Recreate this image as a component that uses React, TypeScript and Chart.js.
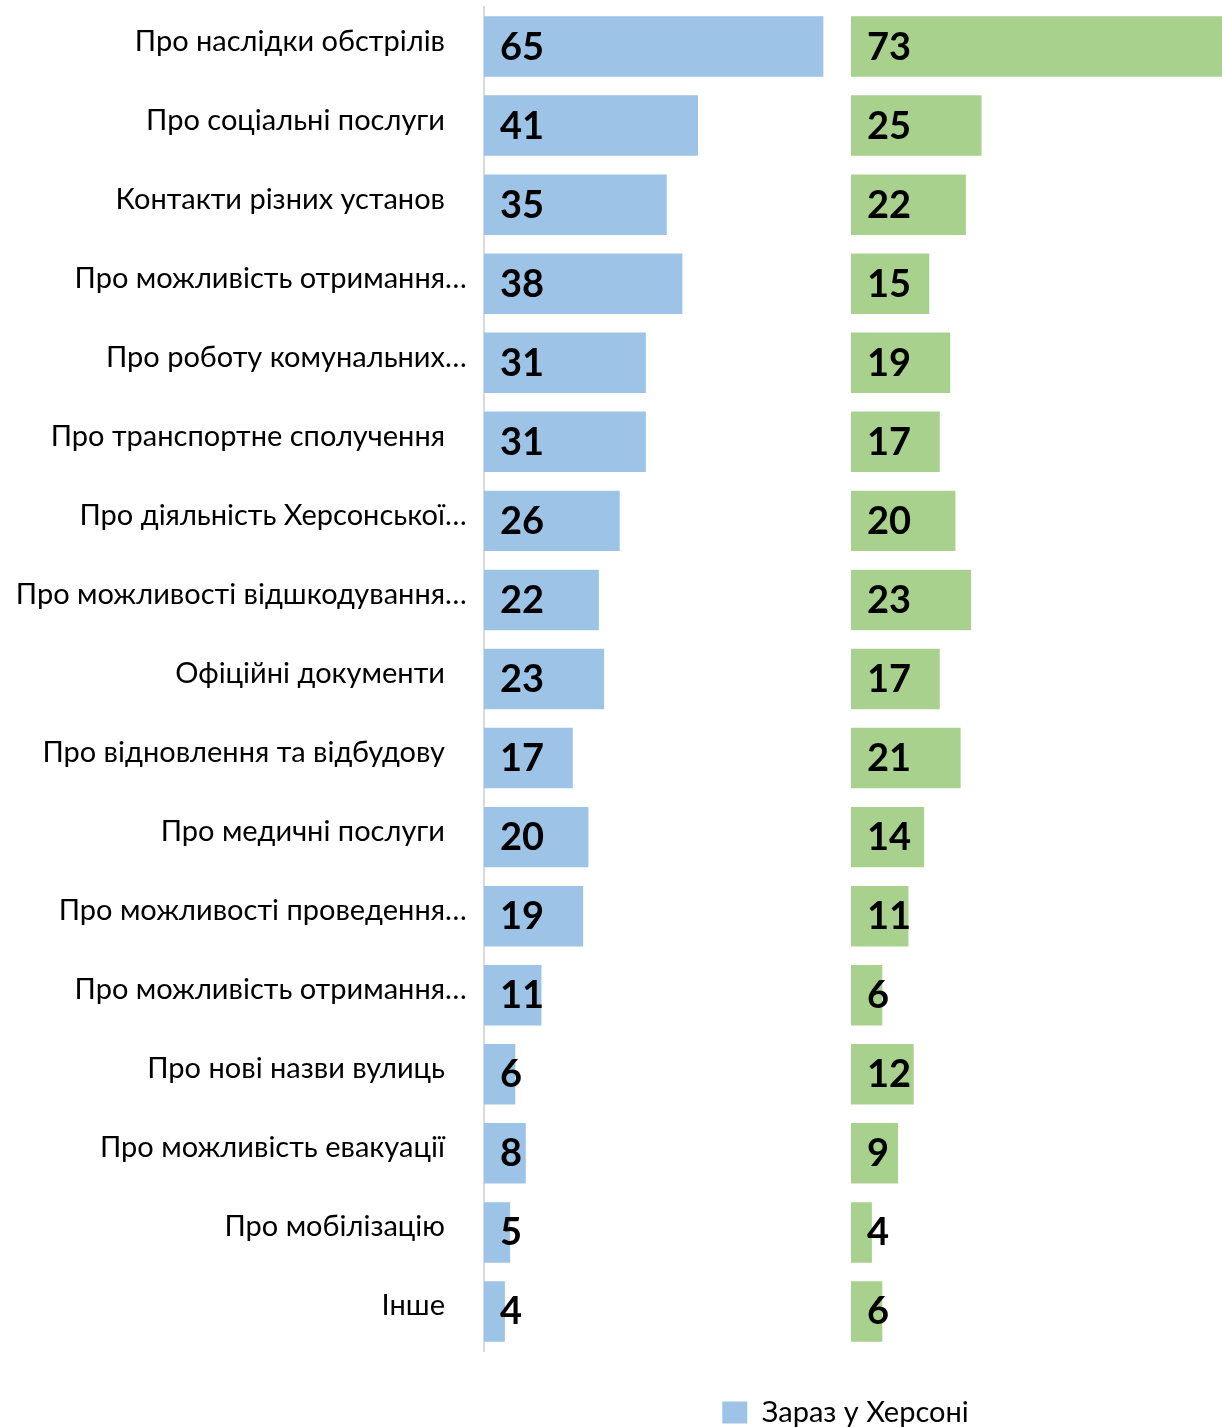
import { useEffect, useRef } from 'react';
import { Chart, registerables } from 'chart.js';

Chart.register(...registerables);

const categories = [
  'Про наслідки обстрілів',
  'Про соціальні послуги',
  'Контакти різних установ',
  'Про можливість отримання…',
  'Про роботу комунальних…',
  'Про транспортне сполучення',
  'Про діяльність Херсонської…',
  'Про можливості відшкодування…',
  'Офіційні документи',
  'Про відновлення та відбудову',
  'Про медичні послуги',
  'Про можливості проведення…',
  'Про можливість отримання…',
  'Про нові назви вулиць',
  'Про можливість евакуації',
  'Про мобілізацію',
  'Інше',
];

const nowValues = [65, 41, 35, 38, 31, 31, 26, 22, 23, 17, 20, 19, 11, 6, 8, 5, 4];
const secondValues = [73, 25, 22, 15, 19, 17, 20, 23, 17, 21, 14, 11, 6, 12, 9, 4, 6];

const seriesNames = ['Зараз у Херсоні', 'Серія 2'];

// layout constants
const CANVAS_W = 1691;
const CANVAS_H = 1437;
const AXIS_LEFT = 484;
const X_MAX = 231.2;
const SECOND_PANEL_OFFSET = 70.3;
const FONT = 'Lato';
const LABEL_SIZE = 29;
const LABEL_RIGHT = 445;
const VALUE_SIZE = 38;
const LEGEND_SIZE = 29;
const BLUE = '#9dc3e6';
const GREEN = '#a9d18e';

const categoryLabelPlugin = {
  id: 'categoryLabels',
  afterDraw(chart: any) {
    const ctx = chart.ctx;
    const yScale = chart.scales.y;
    ctx.save();
    ctx.font = `${LABEL_SIZE}px ${FONT}`;
    ctx.fillStyle = '#000000';
    ctx.textAlign = 'right';
    ctx.textBaseline = 'alphabetic';
    const ell = ctx.measureText('…').width;
    categories.forEach((c, i) => {
      const py = yScale.getPixelForValue(i);
      const x = c.endsWith('…') ? LABEL_RIGHT + ell : LABEL_RIGHT;
      ctx.fillText(c, x, py + 4);
    });
    ctx.restore();
  },
};

const valueLabelPlugin = {
  id: 'valueLabels',
  afterDatasetsDraw(chart: any) {
    const ctx = chart.ctx;
    ctx.save();
    ctx.font = `bold ${VALUE_SIZE}px ${FONT}`;
    ctx.fillStyle = '#000000';
    ctx.textAlign = 'left';
    ctx.textBaseline = 'alphabetic';
    chart.data.datasets.forEach((ds: any, di: number) => {
      const meta = chart.getDatasetMeta(di);
      const vals = di === 0 ? nowValues : secondValues;
      meta.data.forEach((el: any, i: number) => {
        const start = Math.min(el.base, el.x);
        ctx.fillText(String(vals[i]), start + 16, el.y + 13);
      });
    });
    ctx.restore();
  },
};

export default function App() {
  const ref = useRef<HTMLCanvasElement | null>(null);

  useEffect(() => {
    if (!ref.current) return;
    const chart = new Chart(ref.current, {
      type: 'bar',
      data: {
        labels: categories,
        datasets: [
          {
            label: seriesNames[0],
            data: nowValues,
            backgroundColor: BLUE,
            borderWidth: 0,
            grouped: false,
            barPercentage: 0.765,
            categoryPercentage: 1,
          } as any,
          {
            label: seriesNames[1],
            data: secondValues.map((v) => [SECOND_PANEL_OFFSET, SECOND_PANEL_OFFSET + v]),
            backgroundColor: GREEN,
            borderWidth: 0,
            grouped: false,
            barPercentage: 0.765,
            categoryPercentage: 1,
          } as any,
        ],
      },
      options: {
        indexAxis: 'y',
        responsive: false,
        animation: false,
        devicePixelRatio: 1,
        layout: { padding: { top: 7, left: 0, right: 0, bottom: 0 } },
        scales: {
          x: {
            min: 0,
            max: X_MAX,
            display: true,
            grid: { display: false },
            border: { display: false },
            ticks: { display: false },
            afterFit: (s: any) => {
              s.height = 37;
            },
          },
          y: {
            display: true,
            grid: { display: false, drawTicks: false },
            border: { display: true, color: '#d9d9d9', width: 2 },
            ticks: { display: false },
            afterFit: (s: any) => {
              s.width = AXIS_LEFT;
            },
          },
        },
        plugins: {
          tooltip: { enabled: false },
          legend: {
            display: true,
            position: 'bottom',
            labels: {
              filter: (item: any) => item.datasetIndex === 0,
              boxWidth: 25,
              boxHeight: 22,
              padding: 10,
              color: '#000000',
              font: { family: FONT, size: LEGEND_SIZE },
            },
          },
        },
      },
      plugins: [categoryLabelPlugin, valueLabelPlugin],
    });
    return () => chart.destroy();
  }, []);

  return (
    <div
      style={{
        position: 'absolute',
        left: 0,
        top: 0,
        width: 1222,
        height: 1427,
        overflow: 'hidden',
        background: '#ffffff',
      }}
    >
      <canvas ref={ref} width={CANVAS_W} height={CANVAS_H} style={{ display: 'block' }} />
    </div>
  );
}
